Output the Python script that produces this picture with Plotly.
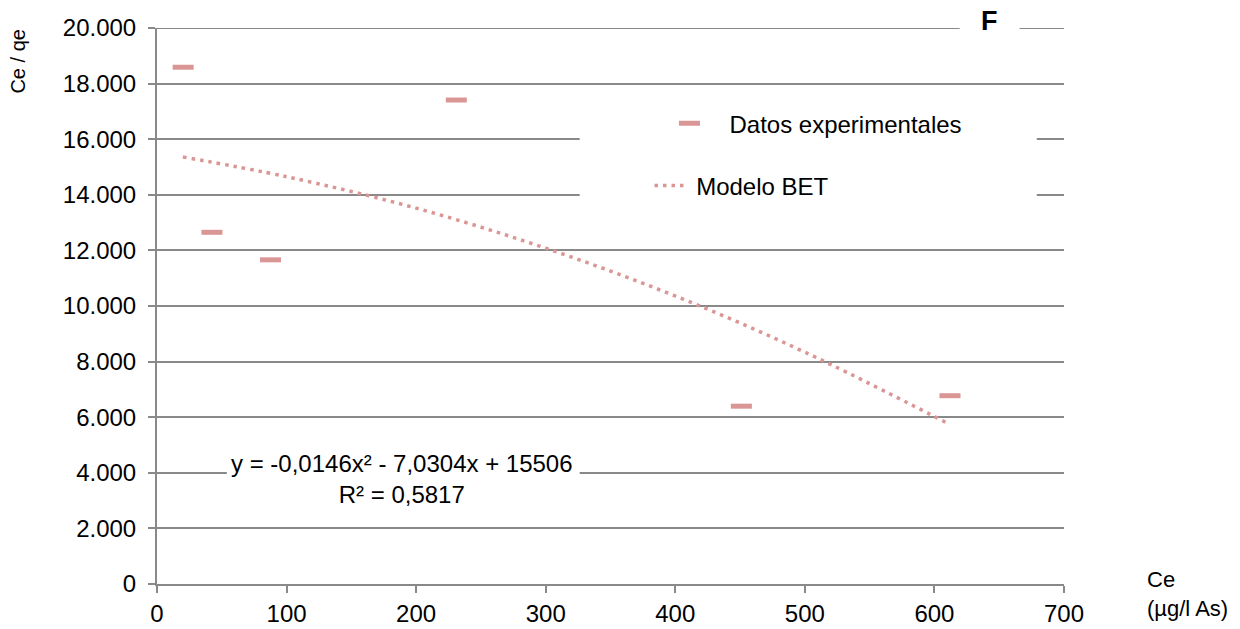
import plotly.graph_objects as go

# Data
ce_exp = [20.2, 42.4, 87.6, 231, 451, 612]
ceqe_exp = [18589, 12651, 11661, 17409, 6396, 6773]

trend_x = [20, 100, 200, 300, 400, 500, 611]
trend_y = [15360, 14650, 13520, 12080, 10360, 8340, 5760]

x_ticks = [0, 100, 200, 300, 400, 500, 600, 700]
y_ticks = [0, 2000, 4000, 6000, 8000, 10000, 12000, 14000, 16000, 18000, 20000]
y_max = y_ticks[-1]

eq_text = "y = -0,0146x² - 7,0304x + 15506<br>R² = 0,5817"

PINK = "#DA9694"
GRID = "#898989"
FONT = "Liberation Sans, Arial, sans-serif"
NB = "\u00a0"

fig = go.Figure()

fig.add_trace(go.Scatter(
    x=ce_exp, y=ceqe_exp, mode="markers",
    name=NB * 3 + "Datos experimentales",
    marker=dict(symbol="line-ew", size=15, color=PINK,
                line=dict(color=PINK, width=5)),
    legend="legend",
))

fig.add_trace(go.Scatter(
    x=trend_x, y=trend_y, mode="lines",
    name=NB + "Modelo BET",
    line=dict(color=PINK, width=3.5, dash="3.5px,5px", shape="spline"),
    legend="legend2",
))

shapes = [
    # top gridline (plotly drops the gridline at the range edge)
    dict(type="line", xref="paper", yref="y", x0=0, x1=1, y0=y_max, y1=y_max,
         line=dict(color=GRID, width=2), layer="below"),
    dict(type="rect", xref="paper", yref="paper", x0=0.466, x1=0.970, y0=0.623, y1=0.871,
         fillcolor="white", line=dict(width=0), layer="above"),
    dict(type="rect", xref="paper", yref="paper", x0=0.077, x1=0.466, y0=0.142, y1=0.232,
         fillcolor="white", line=dict(width=0), layer="above"),
    dict(type="rect", xref="paper", yref="paper", x0=0.885, x1=0.951, y0=0.979, y1=1.03,
         fillcolor="white", line=dict(width=0), layer="above"),
]

annotations = [
    dict(text=eq_text, xref="paper", yref="paper", x=0.270, y=0.188,
         xanchor="center", yanchor="middle", showarrow=False, align="center",
         font=dict(family=FONT, size=24, color="black")),
    dict(text="<b>F</b>", xref="paper", yref="paper", x=0.918, y=1.013,
         xanchor="center", yanchor="middle", showarrow=False,
         font=dict(family=FONT, size=27, color="black")),
    dict(text="Ce / qe", xref="paper", yref="paper", x=-0.1536, y=0.939,
         xanchor="center", yanchor="middle", showarrow=False, textangle=-90,
         font=dict(family=FONT, size=20, color="black")),
    dict(text="Ce<br>(µg/l As)", xref="paper", yref="paper", x=1.089, y=-0.018,
         xanchor="left", yanchor="middle", showarrow=False, align="left",
         font=dict(family=FONT, size=22, color="black")),
]

fig.update_layout(
    width=1240, height=629,
    margin=dict(l=157, r=176, t=28, b=45, autoexpand=False),
    paper_bgcolor="white", plot_bgcolor="white",
    separators=",.",
    font=dict(family=FONT, size=24, color="black"),
    shapes=shapes,
    annotations=annotations,
    legend=dict(x=0.565, y=0.828, xanchor="left", yanchor="middle",
                bgcolor="rgba(0,0,0,0)", borderwidth=0,
                font=dict(family=FONT, size=24, color="black")),
    legend2=dict(x=0.543, y=0.716, xanchor="left", yanchor="middle",
                 bgcolor="rgba(0,0,0,0)", borderwidth=0,
                 font=dict(family=FONT, size=24, color="black")),
    showlegend=True,
    hovermode=False,
)

fig.update_xaxes(
    range=[0, 700], tickvals=x_ticks, ticktext=[str(v) for v in x_ticks],
    showgrid=False, zeroline=False, automargin=False,
    showline=True, linecolor=GRID, linewidth=2,
    ticks="outside", ticklen=7, tickwidth=2, tickcolor=GRID,
    tickfont=dict(family=FONT, size=24, color="black"),
    ticklabelstandoff=0,
)
fig.update_yaxes(
    range=[0, y_max], tickvals=y_ticks, tickformat=",.0f",
    showgrid=True, gridcolor=GRID, gridwidth=2, zeroline=False, automargin=False,
    showline=True, linecolor=GRID, linewidth=2,
    ticks="outside", ticklen=7, tickwidth=2, tickcolor=GRID,
    tickfont=dict(family=FONT, size=24, color="black"),
    ticklabelstandoff=7,
)

fig.write_html(
    "out.html",
    config={"displayModeBar": False},
    post_script="document.body.style.margin='0';document.body.style.overflow='hidden';",
)
